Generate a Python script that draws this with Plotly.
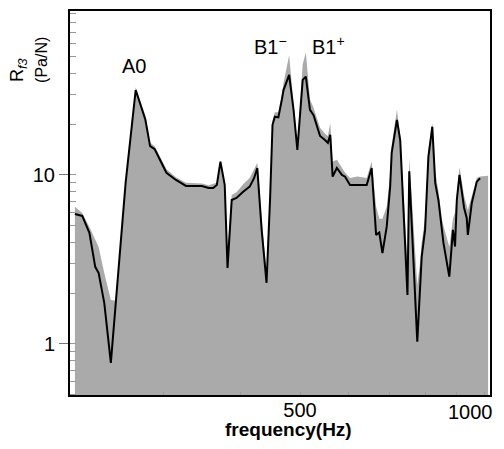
import plotly.graph_objects as go

# Black line: measured response
freq_line = [215, 221, 227, 232, 235, 240, 246, 260, 270, 280, 285, 290, 303, 314, 326,
             346, 355, 361, 366, 371, 377, 381, 387, 394, 404, 414, 421, 426, 433, 441,
             447, 451, 455, 461, 467, 470, 480, 488, 495, 500, 505, 511, 519, 526, 532,
             539, 549, 555, 560, 565, 574, 585, 592, 603, 642, 654, 665, 673, 681, 692,
             701, 705, 719, 728, 748, 753, 776, 784, 789, 799, 809, 821, 830, 840, 851,
             856, 875, 887, 894, 900, 909, 925, 934, 938, 952, 970, 982]
rf3_line = [5.88, 5.72, 4.54, 2.86, 2.63, 1.75, 0.772, 8.97, 31.8, 21.2, 14.8, 14.2, 10.3, 9.34, 8.61,
            8.61, 8.38, 8.38, 8.73, 12.0, 8.73, 2.82, 7.11, 7.31, 7.96, 8.53, 9.60, 11.0, 4.73, 2.30,
            7.44, 19.8, 22.1, 21.9, 27.8, 31.8, 39.1, 24.3, 14.06, 23.3, 36.5, 38.2, 24.3, 22.6, 19.8,
            17.0, 16.1, 15.5, 17.3, 9.77, 11.0, 10.0, 9.77, 8.73, 8.73, 11.0, 4.42, 4.56, 3.45, 4.94,
            8.53, 13.5, 21.2, 16.0, 1.95, 10.5, 1.03, 2.00, 3.29, 4.73, 12.8, 19.3, 8.97, 7.11, 4.56,
            3.96, 2.50, 4.73, 3.77, 7.11, 10.0, 6.38, 5.57, 4.42, 6.83, 9.13, 9.56]

# Gray area: envelope
freq_gray = [215, 221, 227, 235, 240, 246, 251, 260, 270, 280, 285, 290, 303, 314, 326,
             346, 355, 366, 371, 377, 381, 387, 394, 404, 414, 421, 426, 433, 441, 447,
             451, 455, 461, 467, 470, 480, 488, 495, 500, 505, 511, 519, 526, 532, 539,
             549, 555, 560, 565, 574, 585, 592, 603, 620, 642, 654, 665, 673, 681, 692,
             701, 705, 719, 728, 748, 753, 776, 784, 789, 799, 809, 821, 830, 840, 851,
             856, 875, 887, 894, 900, 909, 925, 934, 938, 952, 970, 982, 1012]
rf3_gray = [6.49, 5.96, 4.92, 3.75, 2.63, 1.82, 1.80, 9.3, 33.0, 22.5, 15.5, 14.8, 10.8, 9.7, 9.0,
            8.9, 8.7, 9.0, 12.2, 9.0, 3.6, 7.6, 7.9, 8.8, 9.6, 10.8, 11.8, 5.5, 2.63, 8.0,
            21.0, 23.5, 23.5, 30.0, 35.0, 51.0, 27.0, 15.0, 25.0, 45.0, 53.0, 28.0, 25.0, 22.0, 19.0,
            17.5, 17.0, 20.3, 12.0, 12.3, 11.0, 10.3, 9.6, 9.8, 9.6, 12.0, 6.5, 5.5, 5.5, 6.5,
            10.0, 15.0, 24.3, 17.0, 3.0, 12.6, 2.23, 3.0, 4.0, 5.5, 14.0, 20.3, 10.5, 8.0, 5.5,
            5.0, 3.75, 5.5, 6.0, 8.0, 11.1, 7.5, 6.5, 6.2, 7.5, 9.6, 9.8, 9.9]

y_major = [1, 5, 10, 50]
y_major_text = ["1", "", "10", ""]
y_minor = [0.5, 0.6, 0.7, 0.8, 0.9, 1, 2, 3, 4, 5, 6, 7, 8, 9, 10, 20, 30, 40, 50, 60, 70, 80, 90]
x_major = [500, 1000]
x_major_text = ["500", ""]
x_last_label = "1000"
x_minor = [300, 400, 600, 700, 800, 900]

FONT = "Liberation Sans, Arial, sans-serif"

fig = go.Figure()
fig.add_trace(go.Scatter(x=freq_gray, y=rf3_gray, mode="lines", line=dict(width=0, color="#aaaaaa"),
                         fill="tozeroy", fillcolor="#aaaaaa", showlegend=False, hoverinfo="skip"))
fig.add_trace(go.Scatter(x=freq_line, y=rf3_line, mode="lines", line=dict(width=2, color="black"),
                         showlegend=False))

fig.update_layout(
    width=488, height=433,
    margin=dict(l=61, r=5, t=2, b=45),
    plot_bgcolor="white", paper_bgcolor="white",
    font=dict(family=FONT, size=20, color="black"),
    xaxis=dict(type="log", range=[2.3228, 3.0099], showgrid=False, zeroline=False,
               showline=False,
               tickmode="array", tickvals=x_major, ticktext=x_major_text,
               ticks="inside", ticklen=4, tickcolor="#999999", tickwidth=1,
               tickfont=dict(size=20, family=FONT),
               minor=dict(tickmode="array", tickvals=x_minor, ticks="inside", ticklen=4,
                          tickcolor="#999999", tickwidth=1, showgrid=False)),
    yaxis=dict(type="log", range=[-0.308, 1.976], showgrid=False, zeroline=False,
               showline=False,
               tickmode="array", tickvals=y_major, ticktext=y_major_text,
               ticks="outside", ticklen=9, tickcolor="#777777", tickwidth=1,
               tickfont=dict(size=20, family=FONT),
               minor=dict(tickmode="array", tickvals=y_minor, ticks="inside", ticklen=7,
                          tickcolor="#999999", tickwidth=1, showgrid=False)),
)

# plot frame
fig.add_shape(type="rect", xref="paper", yref="paper", x0=0, x1=1, y0=0, y1=1,
              line=dict(color="black", width=2), layer="above")

# last x tick label, kept inside the page edge
fig.add_annotation(text=x_last_label, xref="paper", yref="paper", x=1.0095, y=-0.0415,
                   xanchor="right", yanchor="middle", showarrow=False, font=dict(size=20, family=FONT))
fig.add_annotation(text="<b>frequency(Hz)</b>", xref="paper", yref="paper", x=0.52, y=-0.087,
                   xanchor="center", yanchor="middle", showarrow=False, font=dict(size=19, family=FONT))
fig.add_annotation(text="R<sub><i>f3</i></sub>", xref="paper", yref="paper", x=-0.121, y=0.808,
                   xanchor="center", yanchor="bottom", textangle=-90, showarrow=False,
                   font=dict(size=18, family=FONT))
fig.add_annotation(text="(Pa/N)", xref="paper", yref="paper", x=-0.064, y=0.806,
                   xanchor="center", yanchor="bottom", textangle=-90, showarrow=False,
                   font=dict(size=16, family=FONT))
fig.add_annotation(text="A0", xref="paper", yref="paper", x=0.1209, y=(396 - 66) / 386,
                   xanchor="left", yanchor="middle", showarrow=False, font=dict(size=20, family=FONT))
fig.add_annotation(text="B1<sup>−</sup>", xref="paper", yref="paper", x=0.433, y=(396 - 60) / 386,
                   xanchor="left", yanchor="bottom", showarrow=False, font=dict(size=20, family=FONT))
fig.add_annotation(text="B1<sup>+</sup>", xref="paper", yref="paper", x=0.571, y=(396 - 60) / 386,
                   xanchor="left", yanchor="bottom", showarrow=False, font=dict(size=20, family=FONT))

fig.write_html("out.html")
